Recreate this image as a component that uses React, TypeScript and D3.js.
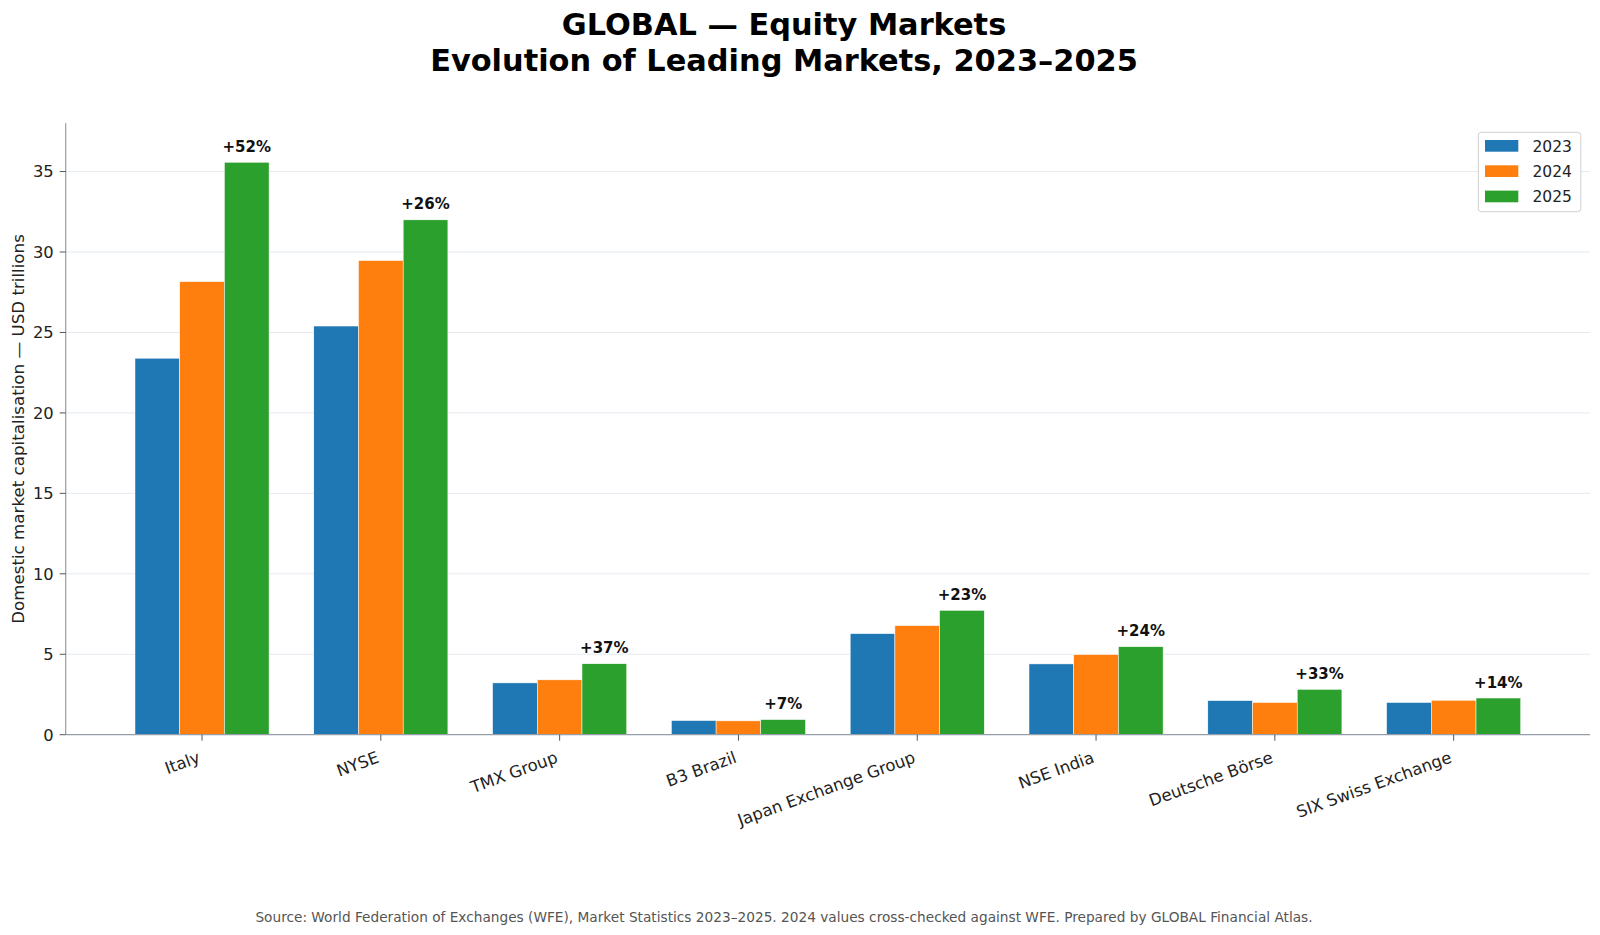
import React, { useEffect } from 'react';
import * as d3 from 'd3';

const markets = [
  'Italy',
  'NYSE',
  'TMX Group',
  'B3 Brazil',
  'Japan Exchange Group',
  'NSE India',
  'Deutsche Börse',
  'SIX Swiss Exchange',
];
const years = ['2023', '2024', '2025'];
const cap2023 = [23.4, 25.4, 3.22, 0.88, 6.28, 4.4, 2.12, 2.0];
const cap2024 = [28.16, 29.47, 3.41, 0.86, 6.78, 4.98, 2.0, 2.14];
const cap2025 = [35.58, 32.0, 4.41, 0.94, 7.73, 5.47, 2.82, 2.28];
const yTicks = [0, 5, 10, 15, 20, 25, 30, 35];

const seriesColors = ['#1f77b4', '#ff7f0e', '#2ca02c'];
const W = 1600;
const H = 935;
const FONT = 'DejaVu Sans, sans-serif';

const App: React.FC = () => {
  useEffect(() => {
    document.body.style.margin = '0';
  }, []);

  const left = 65.7;
  const right = 1590;
  const top = 123.3;
  const bottom = 734.7;
  const barW = 0.25;

  const x = d3.scaleLinear()
    .domain([-1.5 * barW - 0.3875, markets.length - 1 + 1.5 * barW + 0.3875])
    .range([left, right]);
  const y = d3.scaleLinear().domain([0, 38]).range([bottom, top]);

  const series = [cap2023, cap2024, cap2025];
  const growth = cap2025.map((v, i) => Math.round((v / cap2023[i] - 1) * 100));
  const px = x(barW) - x(0);

  return (
    <svg width={W} height={H} style={{ display: 'block', background: '#fff' }} fontFamily={FONT}>
      {/* title */}
      <text x={784} y={35} textAnchor="middle" fontSize={30.4} fontWeight="bold" fill="#000">
        GLOBAL — Equity Markets
      </text>
      <text x={784} y={71} textAnchor="middle" fontSize={30.4} fontWeight="bold" fill="#000">
        Evolution of Leading Markets, 2023–2025
      </text>

      {/* grid */}
      {yTicks.filter(t => t > 0).map(t => (
        <line key={'g' + t} x1={left} x2={right} y1={y(t)} y2={y(t)} stroke="#e5eaef" strokeWidth={1} />
      ))}

      {/* bars */}
      {series.map((vals, j) => (
        <g key={years[j]}>
          {vals.map((v, i) => {
            const cx = i + (j - 1) * barW;
            return (
              <rect
                key={i}
                x={x(cx - barW / 2)}
                y={y(v)}
                width={px}
                height={y(0) - y(v)}
                fill={seriesColors[j]}
                stroke="#fff"
                strokeWidth={0.5}
              />
            );
          })}
        </g>
      ))}

      {/* growth labels */}
      {cap2025.map((v, i) => (
        <text
          key={'p' + i}
          x={x(i + barW)}
          y={y(v) - 10.5}
          textAnchor="middle"
          fontSize={15}
          fontWeight="bold"
          fill="#111"
        >
          {(growth[i] >= 0 ? '+' : '') + growth[i] + '%'}
        </text>
      ))}

      {/* spines */}
      <line x1={left} x2={left} y1={top} y2={bottom} stroke="#959ea9" strokeWidth={1.2} />
      <line x1={left} x2={right} y1={bottom} y2={bottom} stroke="#959ea9" strokeWidth={1.2} />

      {/* y axis */}
      {yTicks.map(t => (
        <g key={'y' + t}>
          <line x1={left - 6} x2={left} y1={y(t)} y2={y(t)} stroke="#555" strokeWidth={1} />
          <text x={left - 12} y={y(t) + 5.8} textAnchor="end" fontSize={16.3} fill="#222">
            {t}
          </text>
        </g>
      ))}
      <text
        transform={`translate(24, ${(top + bottom) / 2}) rotate(-90)`}
        textAnchor="middle"
        fontSize={16.7}
        fill="#222"
      >
        Domestic market capitalisation — USD trillions
      </text>

      {/* x axis */}
      {markets.map((m, i) => (
        <g key={m}>
          <line x1={x(i)} x2={x(i)} y1={bottom} y2={bottom + 6} stroke="#555" strokeWidth={1} />
          <text
            transform={`translate(${x(i) - 5}, ${bottom + 16}) rotate(-20)`}
            textAnchor="end"
            dominantBaseline="hanging"
            fontSize={16.5}
            fill="#222"
          >
            {m}
          </text>
        </g>
      ))}

      {/* legend */}
      <rect x={1478.3} y={132.3} width={102.5} height={79.4} rx={3} fill="#fff" fillOpacity={0.85} stroke="#d0d0d0" />
      {years.map((yr, j) => (
        <g key={'l' + yr}>
          <rect x={1485} y={140 + j * 25.3} width={33.3} height={11.7} fill={seriesColors[j]} />
          <text x={1532.5} y={151.5 + j * 25.3} fontSize={15.5} fill="#222">
            {yr}
          </text>
        </g>
      ))}

      {/* footer */}
      <text x={784} y={921.5} textAnchor="middle" fontSize={13.7} fill="#555">
        Source: World Federation of Exchanges (WFE), Market Statistics 2023–2025. 2024 values cross-checked against WFE. Prepared by GLOBAL Financial Atlas.
      </text>
    </svg>
  );
};

export default App;
